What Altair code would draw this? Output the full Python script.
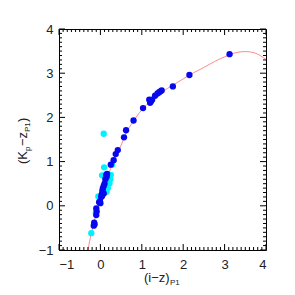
import altair as alt
import pandas as pd

# Red model curve
curve_x = [-0.30, -0.22, -0.15, -0.08, 0.00, 0.10, 0.20, 0.30, 0.40, 0.50, 0.60, 0.80, 1.00,
           1.25, 1.50, 1.75, 2.00, 2.25, 2.50, 2.75, 3.00, 3.25, 3.50, 3.75, 4.00]
curve_y = [-1.00, -0.62, -0.36, -0.10, 0.15, 0.45, 0.72, 0.97, 1.18, 1.37, 1.60, 1.92, 2.17,
           2.40, 2.58, 2.73, 2.87, 3.01, 3.13, 3.26, 3.37, 3.46, 3.49, 3.45, 3.31]

# Dark blue points
blue_x = [-0.16, -0.15, -0.14, -0.10, -0.09, -0.10, -0.03, 0.00, -0.01, 0.02, 0.03, 0.05, 0.05,
          0.06, 0.08, 0.10, 0.08, 0.04, 0.12, 0.15, 0.16, 0.14, 0.25, 0.32, 0.37, 0.42, 0.57,
          0.62, 0.80, 1.03, 1.18, 1.20, 1.22, 1.25, 1.32, 1.38, 1.42, 1.45, 1.48, 1.75, 2.15, 3.12]
blue_y = [-0.45, -0.38, -0.42, -0.21, -0.13, -0.06, 0.08, 0.06, 0.10, 0.20, 0.25, 0.30, 0.35,
          0.40, 0.45, 0.50, 0.28, 0.22, 0.60, 0.66, 0.72, 0.70, 0.93, 1.03, 1.17, 1.26, 1.55,
          1.71, 1.93, 2.21, 2.40, 2.33, 2.36, 2.40, 2.49, 2.54, 2.57, 2.59, 2.61, 2.70, 2.96, 3.43]

# Cyan points
cyan_x = [-0.22, 0.08, 0.04, 0.09, 0.21, 0.24, 0.20, 0.22, 0.15, 0.18, 0.12, 0.10, 0.15, 0.05,
          -0.05, 0.28, 0.18, 0.25, -0.11]
cyan_y = [-0.62, 1.63, 0.69, 0.87, 0.66, 0.60, 0.50, 0.51, 0.45, 0.40, 0.35, 0.30, 0.32, 0.25,
          0.21, 0.93, 0.55, 0.70, -0.17]

tick_values = [-1, 0, 1, 2, 3, 4]
minor_values = [round(-1 + 0.1 * i, 1) for i in range(51)]

W, H = 207, 221
xs = alt.Scale(domain=[-1, 4], nice=False, zero=False)
ys = alt.Scale(domain=[-1, 4], nice=False, zero=False)
FONT = "Liberation Sans"

curve_df = pd.DataFrame({"x": curve_x, "y": curve_y})
blue_df = pd.DataFrame({"x": blue_x, "y": blue_y})
cyan_df = pd.DataFrame({"x": cyan_x, "y": cyan_y})
maj_df = pd.DataFrame({"v": tick_values})
min_df = pd.DataFrame({"v": [v for v in minor_values if abs(v - round(v)) > 1e-6]})

xaxis = alt.Axis(values=tick_values, ticks=False, domain=False, grid=False, title=None,
                 labelFont=FONT, labelFontSize=13, labelColor="#222", labelPadding=8, format="d")
yaxis = alt.Axis(values=tick_values, ticks=False, domain=False, grid=False, title=None,
                 labelFont=FONT, labelFontSize=13, labelColor="#222", labelPadding=6, format="d")

curve = alt.Chart(curve_df).mark_line(color="#ff8a8a", strokeWidth=1, interpolate="monotone", clip=True).encode(
    x=alt.X("x:Q", scale=xs, axis=xaxis),
    y=alt.Y("y:Q", scale=ys, axis=yaxis),
)
cyan = alt.Chart(cyan_df).mark_circle(color="#00f0ff", opacity=1, size=40).encode(
    x=alt.X("x:Q", scale=xs), y=alt.Y("y:Q", scale=ys))
blue = alt.Chart(blue_df).mark_circle(color="#0808ee", opacity=1, size=40).encode(
    x=alt.X("x:Q", scale=xs), y=alt.Y("y:Q", scale=ys))


def xticks(df, length):
    bot = alt.Chart(df).mark_rule(color="black", strokeWidth=1).encode(
        x=alt.X("v:Q", scale=xs), y=alt.value(H), y2=alt.value(H - length))
    top = alt.Chart(df).mark_rule(color="black", strokeWidth=1).encode(
        x=alt.X("v:Q", scale=xs), y=alt.value(0), y2=alt.value(length))
    return [bot, top]


def yticks(df, length):
    left = alt.Chart(df).mark_rule(color="black", strokeWidth=1).encode(
        y=alt.Y("v:Q", scale=ys), x=alt.value(0), x2=alt.value(length))
    right = alt.Chart(df).mark_rule(color="black", strokeWidth=1).encode(
        y=alt.Y("v:Q", scale=ys), x=alt.value(W), x2=alt.value(W - length))
    return [left, right]


ticks = xticks(maj_df, 6) + xticks(min_df, 3) + yticks(maj_df, 6) + yticks(min_df, 3)


# Axis titles with subscripts
def txt(s, x, y, size, angle=0, align="left"):
    return alt.Chart(pd.DataFrame({"t": [s]})).mark_text(
        font=FONT, fontSize=size, color="#222", align=align, baseline="alphabetic", angle=angle
    ).encode(text="t:N", x=alt.value(x), y=alt.value(y))


xt = [
    txt("(i\u2212z)", 85, 253, 13),
    txt("P1", 111, 256, 8),
]
yt = [
    txt("(K", -32, 135, 13, angle=270),
    txt("p", -29, 122, 8, angle=270),
    txt("\u2212z", -32, 117, 13, angle=270),
    txt("P1", -29, 103, 8, angle=270),
    txt(")", -32, 93, 13, angle=270),
]

chart = alt.layer(curve, cyan, blue, *ticks, *xt, *yt).properties(
    width=W, height=H,
    autosize=alt.AutoSizeParams(type="none"),
    padding={"left": 51, "top": 21, "right": 20, "bottom": 37},
).configure_view(stroke="black", strokeWidth=1)

chart.save("out.html", embed_options={"renderer": "svg", "actions": False})
